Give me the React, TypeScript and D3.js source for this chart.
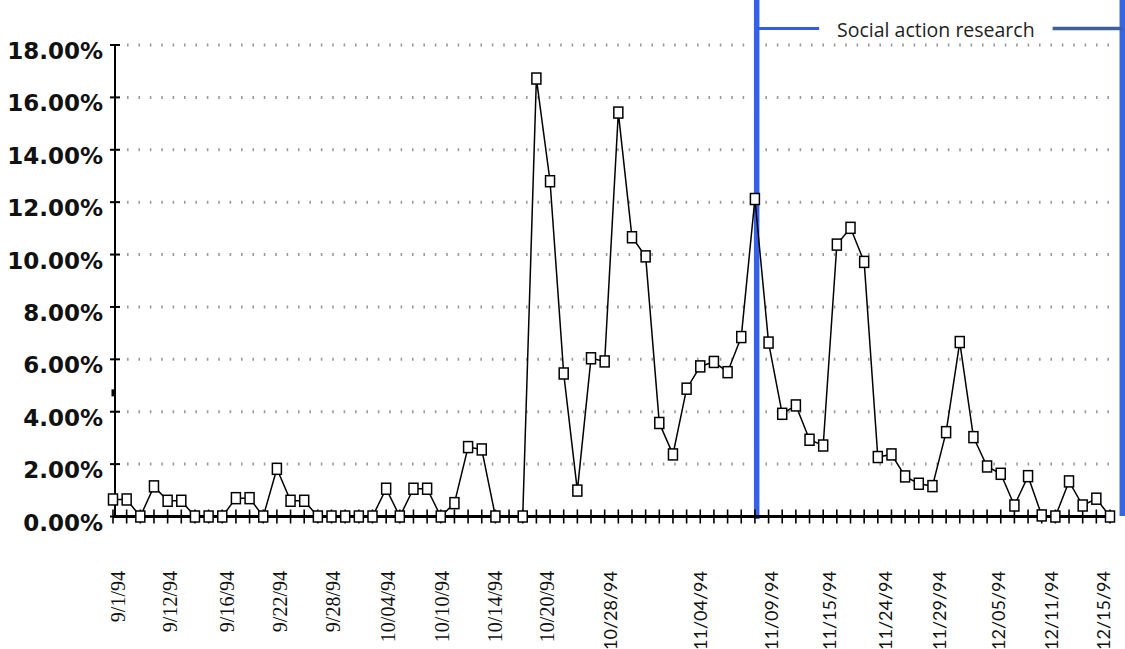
import React from "react";
import * as d3 from "d3";

// Daily share (%) — index 29 has no observation
const values: (number | null)[] = [
  0.65, 0.65, 0, 1.15, 0.6, 0.6, 0, 0, 0, 0.7,
  0.7, 0, 1.82, 0.6, 0.6, 0, 0, 0, 0, 0,
  1.06, 0, 1.06, 1.06, 0, 0.51, 2.65, 2.56, 0, null,
  0, 16.72, 12.8, 5.46, 0.99, 6.04, 5.92, 15.42, 10.66, 9.93,
  3.57, 2.37, 4.88, 5.73, 5.9, 5.51, 6.85, 12.12, 6.64, 3.92,
  4.24, 2.93, 2.71, 10.38, 11.02, 9.72, 2.27, 2.37, 1.53, 1.25,
  1.16, 3.22, 6.66, 3.03, 1.91, 1.63, 0.42, 1.54, 0.04, 0,
  1.34, 0.42, 0.68, 0,
];

const tickLabels = [
  "9/1/94", "9/12/94", "9/16/94", "9/22/94", "9/28/94", "10/04/94", "10/10/94", "10/14/94", "10/20/94",
  "10/28/94", "11/04/94", "11/09/94", "11/15/94", "11/24/94", "11/29/94", "12/05/94", "12/11/94", "12/15/94",
];
// label positions in category-index units
const tickLabelIndex = [0.37, 4.17, 8.35, 12.2, 16.1, 20.1, 24.1, 28.0, 31.8, 36.4, 43.0, 48.2, 52.4, 56.5, 60.5, 64.8, 68.7, 72.5];
const serifLabelCount = 9;

const yTicks = [0, 2, 4, 6, 8, 10, 12, 14, 16, 18];

const researchStart = 47.13;
const researchEnd = 73.9;
const researchLabel = "Social action research";

const SERIF = "'Liberation Serif', 'Times New Roman', Times, 'DejaVu Serif', serif";
const SANS = "Lato, 'Open Sans', 'Noto Sans', sans-serif";

export default function App() {
  const W = 1125, H = 649;
  const n = values.length;
  const x = d3.scaleLinear().domain([0, n - 1]).range([113, 1110]);
  const y = d3.scaleLinear().domain([0, 18]).range([516.5, 45]);

  const pts = values
    .map((v, i) => ({ i, v }))
    .filter((d) => d.v !== null) as { i: number; v: number }[];
  const line = d3.line<{ i: number; v: number }>().x((d) => x(d.i)).y((d) => y(d.v));

  const axisX = 115;
  const blueL = x(researchStart);
  const blueR = x(researchEnd);
  const legendY = 28.5;
  const legLeftEnd = x(51.7);
  const legRightStart = x(68.8);

  return (
    <svg width={W} height={H} style={{ position: "absolute", left: 0, top: 0, background: "#fff" }}>
      {/* dotted gridlines */}
      {yTicks.filter((t) => t > 0).map((t) => (
        <line key={"g" + t} x1={axisX + 12} x2={1114} y1={y(t)} y2={y(t)} stroke="#9a9a9a" strokeWidth={3} strokeDasharray="1.6 9.8" />
      ))}
      {/* blue research bars */}
      <line x1={blueL} x2={blueL} y1={0} y2={519} stroke="#3461e6" strokeWidth={5.5} />
      <line x1={blueR} x2={blueR} y1={0} y2={516} stroke="#3666e0" strokeWidth={5.5} />
      <line x1={blueL} x2={legLeftEnd} y1={legendY} y2={legendY} stroke="#2f5de8" strokeWidth={3} />
      <line x1={legRightStart} x2={blueR} y1={legendY} y2={legendY} stroke="#3e5f9c" strokeWidth={3.5} />
      <text x={(legLeftEnd + legRightStart) / 2} y={legendY + 1} textAnchor="middle" dominantBaseline="central" style={{ fontFamily: "'Open Sans', 'Noto Sans', sans-serif", fontSize: "19.5px" }} fill="#222">
        {researchLabel}
      </text>

      {/* y axis */}
      <line x1={axisX} x2={axisX} y1={y(18)} y2={y(0) + 1} stroke="#000" strokeWidth={2} />
      {yTicks.map((t) => (
        <g key={"yt" + t}>
          <line x1={axisX - 5} x2={axisX + 5} y1={y(t)} y2={y(t)} stroke="#000" strokeWidth={2} />
          <text x={103} y={y(t) + 6} textAnchor="end" dominantBaseline="central" style={{ fontFamily: "'DejaVu Sans', Verdana, sans-serif", fontWeight: 700, fontSize: "23px" }} fill="#111">
            {t.toFixed(2) + "%"}
          </text>
        </g>
      ))}
      <rect x={axisX - 3.5} y={y(4.72) - 3.5} width={4} height={7} fill="#000" />

      {/* x axis */}
      <line x1={x(0)} x2={x(n - 1) + 3} y1={y(0)} y2={y(0)} stroke="#000" strokeWidth={3} />
      {values.map((_, i) => (
        <line key={"xt" + i} x1={x(i)} x2={x(i)} y1={y(0) - 7} y2={y(0) + 7} stroke="#000" strokeWidth={1.6} />
      ))}

      {/* series */}
      <path d={line(pts) || ""} fill="none" stroke="#000" strokeWidth={1.5} />
      {pts.map((d) => (
        <rect key={"m" + d.i} x={x(d.i) - 4.5} y={y(d.v) - 5.5} width={9} height={11} fill="#fff" stroke="#000" strokeWidth={1.5} />
      ))}

      {/* x labels */}
      {tickLabels.map((lab, k) => {
        const cx = x(tickLabelIndex[k]);
        const serif = k < serifLabelCount;
        return (
          <text
            key={"xl" + k}
            transform={`translate(${cx},${571}) rotate(-90)`}
            textAnchor="end"
            dominantBaseline="central"
            style={{ fontFamily: serif ? SERIF : SANS, fontSize: serif ? "20px" : "18px" }}
            fill="#111"
          >
            {lab}
          </text>
        );
      })}
    </svg>
  );
}
